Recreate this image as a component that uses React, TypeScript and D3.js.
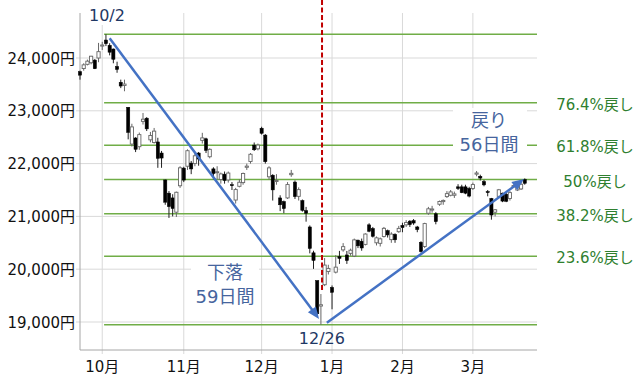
import React from 'react';
import * as d3 from 'd3';

const dates = ["9/20","9/21","9/25","9/26","9/27","9/28",
"10/1","10/2","10/3","10/4","10/5","10/9","10/10","10/11","10/12","10/15","10/16","10/17","10/18","10/19","10/22","10/23","10/24","10/25","10/26","10/29","10/30","10/31",
"11/1","11/2","11/5","11/6","11/7","11/8","11/9","11/12","11/13","11/14","11/15","11/16","11/19","11/20","11/21","11/22","11/26","11/27","11/28","11/29","11/30",
"12/3","12/4","12/5","12/6","12/7","12/10","12/11","12/12","12/13","12/14","12/17","12/18","12/19","12/20","12/21","12/25","12/26","12/27","12/28",
"1/4","1/7","1/8","1/9","1/10","1/11","1/15","1/16","1/17","1/18","1/21","1/22","1/23","1/24","1/25","1/28","1/29","1/30","1/31",
"2/1","2/4","2/5","2/6","2/7","2/8","2/12","2/13","2/14","2/15","2/18","2/19","2/20","2/21","2/22","2/25","2/26","2/27","2/28",
"3/1","3/4","3/5","3/6","3/7","3/8","3/11","3/12","3/13","3/14","3/15","3/18","3/19","3/20","3/22"];

const opens = [23740,23800,23880,23910,23960,24000,
24226,24340,24240,24170,23840,23540,23480,23066,22370,22485,22320,22800,22860,22450,22400,22410,22200,21690,21440,21350,21080,21580,
21915,21950,22010,22000,22200,22440,22470,22130,21900,21830,21700,21800,21690,21600,21310,21570,21640,21930,22040,22350,22280,
22670,22540,21750,21780,21660,21350,21280,21350,21790,21650,21380,21300,21110,20800,20310,19785,19302,19706,19957,
19655,19944,20240,20366,20270,20300,20250,20550,20530,20470,20840,20770,20500,20490,20620,20730,20560,20660,20710,
20830,20840,20910,20920,20800,20510,20430,21060,21120,21050,21230,21280,21375,21400,21400,21560,21560,21560,21530,
21530,21800,21760,21660,21470,21340,21080,21380,21440,21420,21340,21560,21500,21520,21700];

const highs = [23760,23900,23970,24040,23980,24286,
24306,24448,24280,24180,23930,23590,23590,23069,22755,22500,22588,22959,22880,22600,22675,22489,22240,21700,21480,21420,21470,21950,
21940,22270,22050,22200,22220,22583,22490,22290,21930,21950,21830,21850,21850,21650,21540,21700,21830,22000,22200,22400,22380,
22698,22560,21950,21800,21800,21400,21300,21650,21880,21680,21550,21320,21180,20830,20350,19785,19530,20211,20084,
19692,20266,20347,20494,20345,20390,20580,20560,20580,20680,20870,20800,20620,20600,20800,20750,20700,20680,20820,
20880,20930,20930,20950,20820,20530,20880,21180,21200,21080,21300,21320,21480,21500,21470,21610,21600,21600,21560,
21640,21860,21790,21690,21500,21350,21140,21520,21450,21450,21480,21600,21600,21650,21720];

const lows = [23590,23760,23860,23880,23790,23920,
24152,24226,24050,23900,23720,23430,23370,22459,22323,22218,22261,22740,22617,22403,22380,21920,21920,21220,20971,21000,20990,21540,
21650,21880,21800,21950,21960,22380,22200,22100,21700,21700,21620,21620,21640,21500,21243,21550,21600,21880,22000,22240,22250,
22550,22000,21700,21300,21600,21100,21060,21330,21750,21330,21300,21090,20900,20300,20006,19117,18948,19680,19900,
19241,19920,20100,20331,20100,20255,20230,20400,20350,20450,20700,20600,20450,20430,20600,20600,20500,20500,20690,
20700,20800,20800,20840,20700,20315,20400,21030,21070,20850,21200,21220,21350,21380,21350,21500,21440,21420,21360,
21500,21760,21680,21570,21380,20938,21000,21360,21270,21270,21300,21540,21480,21500,21600];

const closes = [23675,23870,23940,24034,23797,24120,
24246,24271,24110,23976,23784,23469,23506,22591,22695,22271,22549,22841,22658,22532,22615,22100,22105,21269,21185,21150,21457,21920,
21688,22244,21899,22148,22086,22487,22250,22270,21811,21846,21804,21680,21821,21583,21508,21647,21812,21952,22177,22262,22351,
22575,22036,21919,21502,21679,21220,21148,21603,21816,21375,21507,21115,21060,20393,20166,19156,19327,20078,20015,
19562,20039,20204,20427,20164,20360,20555,20443,20402,20666,20719,20623,20594,20575,20774,20649,20665,20557,20773,
20788,20884,20844,20874,20751,20333,20864,21144,21140,20901,21282,21303,21431,21464,21426,21528,21449,21440,21385,
21603,21822,21726,21597,21456,21026,21125,21504,21290,21287,21451,21584,21567,21609,21627];

const yTicks = [19000, 20000, 21000, 22000, 23000, 24000];
const monthLabels = ["10月", "11月", "12月", "1月", "2月", "3月"];

const swingHigh = 24448;
const swingLow = 18948.58;
const fibRatios = [0.764, 0.618, 0.5, 0.382, 0.236];
const fibLabels = ["76.4%戻し", "61.8%戻し", "50%戻し", "38.2%戻し", "23.6%戻し"];

// arrow annotations [index, value]
const arrowDown = [[8.0, 24373], [64.5, 19057]];
const arrowUp = [[66.6, 18987], [119.8, 21708]];
const highIdx = 7;   // 10/2
const lowIdx = 65;   // 12/26

const FONT = "'DejaVu Sans', 'Noto Sans CJK JP', sans-serif";
const GRID = "#d9d9d9";
const AXIS = "#a6a6a6";
const FIB = "#70ad47";
const FIBTXT = "#2f7f2f";
const BLUE = "#4472c4";
const BLUETXT = "#46659e";
const NAVY = "#1f3864";

function Arrow({ p0, p1 }: { p0: [number, number]; p1: [number, number] }) {
  const dx = p1[0] - p0[0], dy = p1[1] - p0[1];
  const len = Math.hypot(dx, dy);
  const ux = dx / len, uy = dy / len;
  const L = 12, hw = 5;
  const bx = p1[0] - ux * L, by = p1[1] - uy * L;
  const pts = [
    [p1[0], p1[1]],
    [bx - uy * hw, by + ux * hw],
    [bx + uy * hw, by - ux * hw],
  ];
  return (
    <g>
      <line x1={p0[0]} y1={p0[1]} x2={bx + ux * 2} y2={by + uy * 2} stroke={BLUE} strokeWidth={2.5} />
      <polygon points={pts.map(p => p.join(',')).join(' ')} fill={BLUE} />
    </g>
  );
}

export default function App() {
  const x = d3.scaleLinear().domain([0, 123.3]).range([80, 537]);
  const y = d3.scaleLinear().domain([19000, 24000]).range([322, 58]);
  const n = Math.min(dates.length, opens.length, highs.length, lows.length, closes.length);
  const x0 = 80, x1 = 537, yTop = 13, yBot = 350;

  const monthIdx: number[] = [];
  for (let i = 1; i < dates.length; i++) {
    if (dates[i].split('/')[0] !== dates[i - 1].split('/')[0]) monthIdx.push(i);
  }

  const fibLevels = [swingHigh, ...fibRatios.map(r => swingLow + r * (swingHigh - swingLow)), swingLow];
  const fibStart = x(highIdx - 0.5);
  const bw = 3.2;

  return (
    <svg width={640} height={381} style={{ position: 'absolute', left: 0, top: 0, background: '#fff' }} fontFamily={FONT}>
      <rect x={0} y={0} width={640} height={381} fill="#fff" />
      {/* horizontal gridlines */}
      {yTicks.map(t => (
        <g key={t}>
          <line x1={x0 - 4} x2={x1} y1={y(t)} y2={y(t)} stroke={GRID} strokeWidth={1} />
          <text x={75} y={y(t) + 5.5} textAnchor="end" fontSize={15} fill="#111">{d3.format(",")(t)}円</text>
        </g>
      ))}
      {/* vertical gridlines */}
      {monthIdx.map((mi, k) => (
        <g key={mi}>
          <line x1={x(mi)} x2={x(mi)} y1={yTop} y2={yBot + 4} stroke={GRID} strokeWidth={1} />
          <text x={x(mi)} y={372} textAnchor="middle" fontSize={15} fill="#111">{monthLabels[k]}</text>
        </g>
      ))}
      {/* axes */}
      <line x1={x0} x2={x0} y1={yTop} y2={yBot} stroke={AXIS} strokeWidth={1} />
      <line x1={x0} x2={x1} y1={yBot} y2={yBot} stroke={AXIS} strokeWidth={1} />

      {/* fib lines */}
      {fibLevels.map((v, k) => (
        <line key={k} x1={fibStart} x2={x1} y1={y(v)} y2={y(v)} stroke={FIB} strokeWidth={1.5} />
      ))}
      {fibRatios.map((r, k) => (
        <text key={k} x={595} y={y(swingLow + r * (swingHigh - swingLow)) + 7} textAnchor="middle" fontSize={15} fill={FIBTXT}>{fibLabels[k]}</text>
      ))}

      {/* candles */}
      {d3.range(n).map(i => {
        const up = closes[i] >= opens[i];
        const cx = x(i);
        const top = y(Math.max(opens[i], closes[i]));
        const bot = y(Math.min(opens[i], closes[i]));
        const h = Math.max(bot - top, 1);
        return (
          <g key={i}>
            <line x1={cx} x2={cx} y1={y(highs[i])} y2={y(lows[i])} stroke={up ? "#666" : "#222"} strokeWidth={1} />
            <rect x={cx - bw / 2} y={top} width={bw} height={h}
              fill={up ? "#fff" : "#000"} stroke={up ? "#666" : "#000"} strokeWidth={up ? 0.9 : 0.5} />
          </g>
        );
      })}

      {/* red dashed line at low */}
      <line x1={x(lowIdx + 0.3)} x2={x(lowIdx + 0.3)} y1={0} y2={292} stroke="#c00000" strokeWidth={2} strokeDasharray="5,2.5" />

      {/* arrows */}
      <Arrow p0={[x(arrowDown[0][0]), y(arrowDown[0][1])]} p1={[x(arrowDown[1][0]), y(arrowDown[1][1])]} />
      <Arrow p0={[x(arrowUp[0][0]), y(arrowUp[0][1])]} p1={[x(arrowUp[1][0]), y(arrowUp[1][1])]} />

      {/* labels */}
      <rect x={88} y={3} width={40} height={22} fill="#fff" />
      <text x={x(highIdx) + 1} y={21} textAnchor="middle" fontSize={16} fill={NAVY}>10/2</text>
      <text x={x(lowIdx) + 1} y={344} textAnchor="middle" fontSize={16} fill={NAVY}>12/26</text>

      <rect x={191} y={259} width={68} height={49} fill="#fff" />
      <text x={225} y={279} textAnchor="middle" fontSize={18} fill={BLUETXT}>下落</text>
      <text x={225} y={303} textAnchor="middle" fontSize={18} fill={BLUETXT}>59日間</text>

      <rect x={453} y={108} width={74} height={48} fill="#fff" />
      <text x={489} y={127} textAnchor="middle" fontSize={18} fill={BLUETXT}>戻り</text>
      <text x={489} y={151} textAnchor="middle" fontSize={18} fill={BLUETXT}>56日間</text>
    </svg>
  );
}
